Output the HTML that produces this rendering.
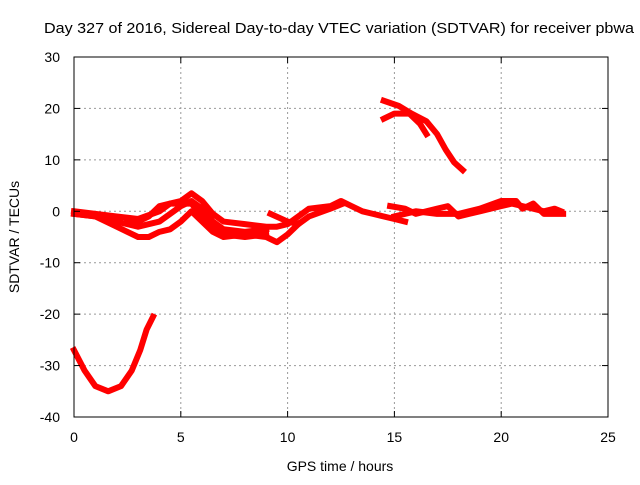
<!DOCTYPE html>
<html><head><meta charset="utf-8"><style>
body{margin:0;background:#fff}
svg text{font-family:"Liberation Sans",sans-serif;font-size:14px;fill:#000}
</style></head><body>
<svg width="640" height="480" viewBox="0 0 640 480" xmlns="http://www.w3.org/2000/svg">
<rect width="640" height="480" fill="#fff"/>
<g id="grid"></g>
<g id="series"></g>
<rect x="74" y="57" width="534" height="360" fill="none" stroke="#000" stroke-width="1"/>
<g id="ticks"></g>
<text x="44" y="33" textLength="590" lengthAdjust="spacingAndGlyphs" style="font-size:15px">Day 327 of 2016, Sidereal Day-to-day VTEC variation (SDTVAR) for receiver pbwa</text>
<text x="340" y="471" text-anchor="middle">GPS time / hours</text>
<text transform="translate(19,237) rotate(-90)" text-anchor="middle">SDTVAR / TECUs</text>
</svg>
<script>
const xTicks=[0,5,10,15,20,25];
const yTicks=[30,20,10,0,-10,-20,-30,-40];
const trackA=[[0,-27],[0.5,-31],[1,-34],[1.6,-35],[2.2,-34],[2.7,-31],[3.1,-27],[3.4,-23],[3.7,-20.5]];
const trackB=[[14.5,21.5],[15.2,20.5],[15.8,19],[16.5,17.5],[17,15],[17.4,12],[17.8,9.5],[18.2,8]];
const trackC=[[14.5,18],[15,19],[15.7,19],[16.2,17],[16.5,15]];
const trackD1=[[0,0],[1,-0.5],[2,-1],[3,-1.5],[4,0],[4.5,1.5],[5,2],[5.5,3.5],[6,2],[6.5,-0.5],[7,-2],[8,-2.5],[9,-3],[9.5,-3],[10,-2.5],[10.5,-1],[11,0.5],[12,1],[12.5,2],[13,1],[13.5,0],[14,-0.5],[15,-1.5],[15.5,-2]];
const trackD2=[[0,-0.5],[1,-1],[2,-3],[3,-5],[3.5,-5],[4,-4],[4.5,-3.5],[5,-2],[5.5,0],[6,-2],[6.5,-4],[7,-5],[8,-4.5],[9,-5],[9.5,-6],[10,-4.5],[10.5,-2.5]];
const trackD3=[[0,-0.5],[1,-1],[2,-2],[3,-3],[4,-2],[5,1],[5.5,2],[6,0.5],[6.5,-2],[7,-3.5],[8,-4],[9,-3.5]];
const trackD4=[[2.5,-1.5],[3,-2],[3.5,-1],[4,1],[4.5,1.5],[5.5,1.5],[6,-1],[6.5,-3],[7,-4.5],[8,-5],[9,-4.5]];
const trackD5=[[9.2,-0.5],[10,-2],[10.5,-2.5],[11,-1],[12,0.5],[12.6,1.5]];
const trackE1=[[14.8,1],[15.5,0.5],[16,-0.5],[17,0.5],[17.5,1],[18,-1],[18.5,-0.5],[19,0],[20,1],[20.5,1.5],[21,1],[22,0],[22.5,0.5],[22.8,0]];
const trackE2=[[15,-1],[16,0],[17,-0.5],[18,-0.5],[19,0.5],[20,2],[20.7,2],[21,0.5],[21.5,1.5],[22,-0.5],[22.9,-0.5]];
const tracks=[trackA,trackB,trackC,trackD1,trackD2,trackD3,trackD4,trackD5,trackE1,trackE2];
const X=t=>74+t*(534/25), Y=v=>57+(30-v)*(360/70);
const NS="http://www.w3.org/2000/svg";
const grid=document.getElementById('grid'),ticks=document.getElementById('ticks'),ser=document.getElementById('series');
function mk(tag,a,p){const e=document.createElementNS(NS,tag);for(const k in a)e.setAttribute(k,a[k]);p.appendChild(e);return e;}
xTicks.forEach(t=>{const x=X(t);
 if(t>0&&t<25){const g=mk('line',{x1:x,y1:57,x2:x,y2:417,stroke:'#999','stroke-dasharray':'2,3'},grid);
 
 }
 const l=mk('text',{x:x,y:442,'text-anchor':'middle'},ticks);l.textContent=t;
 
 
 mk('line',{x1:x,y1:417,x2:x,y2:411,stroke:'#000'},ticks);mk('line',{x1:x,y1:57,x2:x,y2:63,stroke:'#000'},ticks);});
yTicks.forEach(v=>{const y=Y(v);
 if(v<30&&v>-40){const g=mk('line',{x1:74,y1:y,x2:608,y2:y,stroke:'#999','stroke-dasharray':'2,3'},grid);
 
 }
 const l=mk('text',{x:60,y:y+5,'text-anchor':'end'},ticks);l.textContent=v;
 
 
 mk('line',{x1:74,y1:y,x2:80,y2:y,stroke:'#000'},ticks);mk('line',{x1:608,y1:y,x2:602,y2:y,stroke:'#000'},ticks);});
tracks.forEach(tr=>{const p=mk('polyline',{points:tr.map(d=>X(d[0])+','+Y(d[1])).join(' '),fill:'none',stroke:'#f00','stroke-width':6,'stroke-linejoin':'round','stroke-linecap':'square'},ser);
 
 });
</script>
</body></html>
